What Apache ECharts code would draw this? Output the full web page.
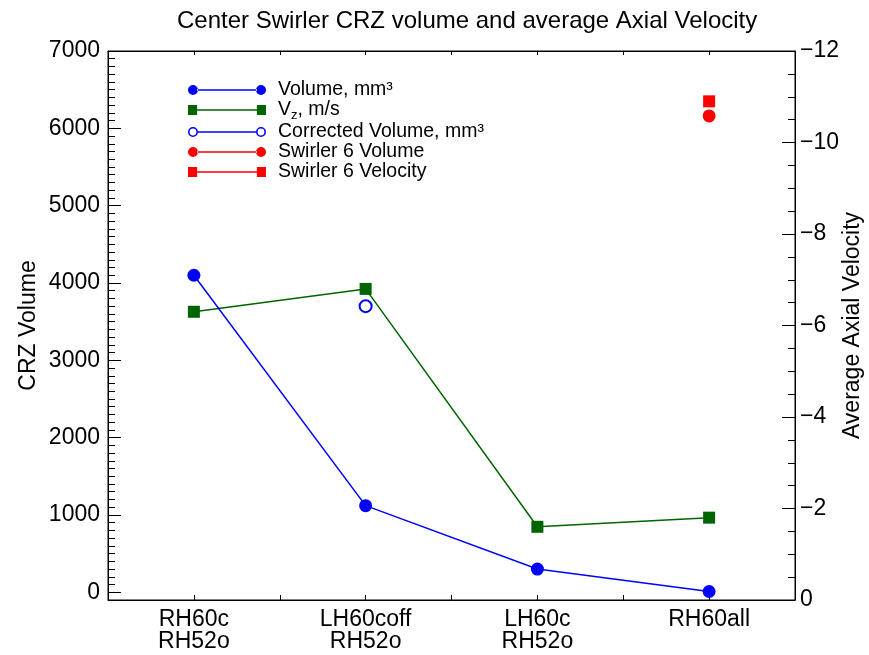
<!DOCTYPE html>
<html><head><meta charset="utf-8">
<script src="https://cdn.jsdelivr.net/npm/echarts@6/dist/echarts.min.js"></script>
<style>html,body{margin:0;padding:0;background:#fff}#c{width:869px;height:655px}</style>
</head><body><div id="c"></div>
<script>
// ---- data ----
const categories = ['RH60c\nRH52o', 'LH60coff\nRH52o', 'LH60c\nRH52o', 'RH60all'];
const volume = [4100, 1120, 300, 10];
const velocity = [-6.3, -6.8, -1.6, -1.8];
const correctedVolume = [null, 3700, null, null];
const swirler6Volume = [null, null, null, 6160];
const swirler6Velocity = [null, null, null, -10.9];
const volumeTickLabels = [0, 1000, 2000, 3000, 4000, 5000, 6000, 7000];
const seriesNames = ['Volume, mm\u00b3', 'Vz, m/s', 'Corrected Volume, mm\u00b3', 'Swirler 6 Volume', 'Swirler 6 Velocity'];

const toPoints = arr => arr.map((v, i) => v == null ? null : [i, v]).filter(p => p);

const FONT = 'Liberation Sans';
const chart = echarts.init(document.getElementById('c'));

const circleIcon = 'path://M0,5a5,5 0 1,0 10,0a5,5 0 1,0 -10,0z M68,5a5,5 0 1,0 10,0a5,5 0 1,0 -10,0z M9,4.25h60v1.5h-60z';
const squareIcon = 'path://M0.5,0.5h9v9h-9z M68.5,0.5h9v9h-9z M9,4.25h60v1.5h-60z';
const ringIcon = 'path://M0,5a5,5 0 1,0 10,0a5,5 0 1,0 -10,0z M1.6,5a3.4,3.4 0 1,1 6.8,0a3.4,3.4 0 1,1 -6.8,0z M68,5a5,5 0 1,0 10,0a5,5 0 1,0 -10,0z M69.6,5a3.4,3.4 0 1,1 6.8,0a3.4,3.4 0 1,1 -6.8,0z M10,4.25h58v1.5h-58z';

const option = {
  animation: false,
  textStyle: { fontFamily: FONT, color: '#000' },
  title: {
    text: 'Center Swirler CRZ volume and average Axial Velocity',
    left: 172, top: 4,
    textStyle: { fontFamily: FONT, fontWeight: 'normal', fontSize: 24, color: '#000' }
  },
  legend: {
    orient: 'vertical', left: 188, top: 80, padding: 0,
    itemWidth: 78, itemHeight: 10, itemGap: 0,
    symbolKeepAspect: false,
    textStyle: {
      fontFamily: FONT, fontSize: 19.5, color: '#000', lineHeight: 17.5, padding: [0, 0, 0, 7],
      rich: {
        n: { fontFamily: FONT, fontSize: 19.5, color: '#000' },
        s: { fontFamily: FONT, fontSize: 13, color: '#000', padding: [11, 0, 0, 0] }
      }
    },
    formatter: name => name === 'Vz, m/s' ? '{n|V}{s|z}{n|, m/s}' : name,
    data: [
      { name: seriesNames[0], icon: circleIcon, itemStyle: { color: '#0000ff', borderWidth: 0 } },
      { name: seriesNames[1], icon: squareIcon, itemStyle: { color: '#006400', borderWidth: 0 } },
      { name: seriesNames[2], icon: ringIcon, itemStyle: { color: '#0000ff', borderWidth: 0 } },
      { name: seriesNames[3], icon: circleIcon, itemStyle: { color: '#ff0000', borderWidth: 0 } },
      { name: seriesNames[4], icon: squareIcon, itemStyle: { color: '#ff0000', borderWidth: 0 } }
    ]
  },
  grid: {
    left: 108, right: 74, top: 51, bottom: 55, show: true, borderColor: '#000', borderWidth: 1,
    backgroundColor: 'transparent', containLabel: false, outerBoundsMode: 'none'
  },
  xAxis: [
    {
      type: 'value', position: 'bottom', min: -0.5, max: 3.5, interval: 0.5,
      axisLine: { show: true, onZero: false, lineStyle: { color: '#000', width: 1 } },
      axisTick: { show: true, inside: true, length: 5, lineStyle: { color: '#000' } },
      splitLine: { show: false },
      axisLabel: {
        fontFamily: FONT, fontSize: 23, color: '#000', lineHeight: 22, margin: 9,
        formatter: v => (Math.abs(v - Math.round(v)) < 1e-9 && v >= 0 && v < categories.length) ? categories[Math.round(v)] : ''
      }
    },
    {
      type: 'value', position: 'top', min: -0.5, max: 3.5, interval: 0.5,
      axisLine: { show: true, onZero: false, lineStyle: { color: '#000', width: 1 } },
      axisTick: { show: true, inside: true, length: 4, lineStyle: { color: '#000' } },
      splitLine: { show: false }, axisLabel: { show: false }
    }
  ],
  yAxis: [
    {
      type: 'value', position: 'left', min: -100, max: 7000,
      name: 'CRZ Volume', nameLocation: 'middle', nameGap: 68, nameRotate: 90, nameMoveOverlap: false,
      nameTextStyle: { fontFamily: FONT, fontSize: 23, color: '#000' },
      axisLine: { show: true, onZero: false, lineStyle: { color: '#000', width: 1 } },
      axisTick: { show: true, inside: true, length: 13, lineStyle: { color: '#000' }, customValues: volumeTickLabels },
      axisLabel: { fontFamily: FONT, fontSize: 23, color: '#000', margin: 8, customValues: volumeTickLabels, formatter: v => String(v) },
      splitLine: { show: false }
    },
    {
      type: 'value', position: 'left', min: -100, max: 7000, interval: 100,
      axisLine: { show: false, onZero: false },
      axisTick: { show: true, inside: true, length: 7, lineStyle: { color: '#000' } },
      axisLabel: { show: false },
      splitLine: { show: false }
    },
    {
      type: 'value', position: 'right', min: -12, max: 0, interval: 2, inverse: true,
      name: 'Average Axial Velocity', nameLocation: 'middle', nameGap: 46, nameRotate: 90, nameMoveOverlap: false,
      nameTextStyle: { fontFamily: FONT, fontSize: 23, color: '#000' },
      axisLine: { show: true, onZero: false, lineStyle: { color: '#000', width: 1 } },
      axisTick: { show: true, inside: true, length: 13, lineStyle: { color: '#000' } },
      minorTick: { show: true, splitNumber: 4, length: 7, lineStyle: { color: '#000' } },
      axisLabel: { fontFamily: FONT, fontSize: 23, color: '#000', margin: 5, formatter: v => v === 0 ? '0' : '\u2212' + Math.abs(v) },
      splitLine: { show: false }
    }
  ],
  series: [
    {
      name: seriesNames[0], type: 'line', xAxisIndex: 0, yAxisIndex: 0, data: toPoints(volume),
      symbol: 'circle', symbolSize: 13, itemStyle: { color: '#0000ff' },
      lineStyle: { color: '#0000ff', width: 1.5 }, z: 3
    },
    {
      name: seriesNames[1], type: 'line', xAxisIndex: 0, yAxisIndex: 2, data: toPoints(velocity),
      symbol: 'rect', symbolSize: 12, itemStyle: { color: '#006400' },
      lineStyle: { color: '#006400', width: 1.5 }, z: 2
    },
    {
      name: seriesNames[2], type: 'line', xAxisIndex: 0, yAxisIndex: 0, data: toPoints(correctedVolume),
      symbol: 'circle', symbolSize: 12, itemStyle: { color: '#ffffff', borderColor: '#0000ff', borderWidth: 2 },
      lineStyle: { color: '#0000ff', width: 1.5 }
    },
    {
      name: seriesNames[3], type: 'line', xAxisIndex: 0, yAxisIndex: 0, data: toPoints(swirler6Volume),
      symbol: 'circle', symbolSize: 13, itemStyle: { color: '#ff0000' }, lineStyle: { color: '#ff0000', width: 1.5 }
    },
    {
      name: seriesNames[4], type: 'line', xAxisIndex: 0, yAxisIndex: 2, data: toPoints(swirler6Velocity),
      symbol: 'rect', symbolSize: 12, itemStyle: { color: '#ff0000' }, lineStyle: { color: '#ff0000', width: 1.5 }
    }
  ]
};
chart.setOption(option);
</script>
</body></html>
